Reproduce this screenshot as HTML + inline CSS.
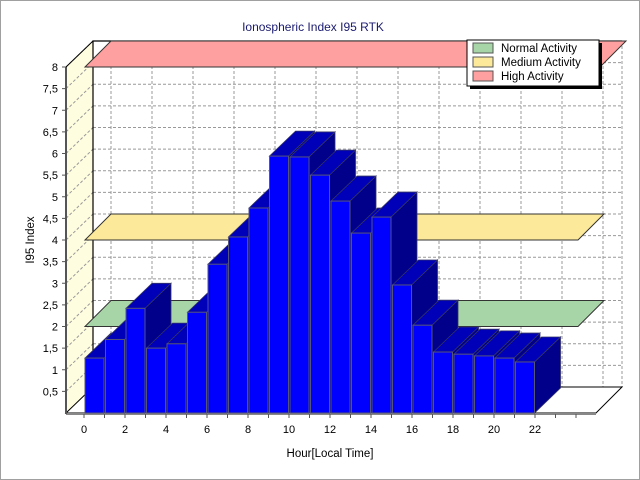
<!DOCTYPE html>
<html><head><meta charset="utf-8"><style>
html,body{margin:0;padding:0;background:#fff;}
svg{display:block;font-family:"Liberation Sans","DejaVu Sans",sans-serif;}
</style></head><body>
<svg id="c" width="640" height="480" xmlns="http://www.w3.org/2000/svg">
<rect x="0.5" y="0.5" width="639" height="479" fill="#fff" stroke="#a0a0a0"/>
<text x="313" y="31" font-size="12" fill="#1a1a6e" text-anchor="middle">Ionospheric Index I95 RTK</text>
<!-- left wall -->
<polygon points="66,67 93,41 93,387 66,413" fill="#fffde0"/>
<g id="grid" stroke="#999" stroke-dasharray="3,2" stroke-width="1" fill="none"></g>
<!-- back frame -->
<polyline points="93,387 93,41 622,41" fill="none" stroke="#000" stroke-width="1.2"/>
<g id="bands"></g>
<!-- floor -->
<polygon points="66,413 93,387 622,387 596,413" fill="#fff" stroke="#000" stroke-width="1"/>
<line x1="66" y1="414" x2="596" y2="414" stroke="#888" stroke-width="2"/>
<line x1="66" y1="67" x2="66" y2="414" stroke="#555" stroke-width="2"/>
<line x1="66" y1="67" x2="93" y2="41" stroke="#000" stroke-width="1"/>
<g id="ticks" font-size="11" fill="#000"></g>
<g id="bars"></g>
<text x="330" y="457" font-size="11.5" text-anchor="middle">Hour[Local Time]</text>
<text transform="translate(34,240) rotate(-90)" font-size="11.5" text-anchor="middle">I95 Index</text>
<!-- legend -->
<rect x="470" y="43" width="132" height="46" fill="#000"/>
<rect x="467" y="40" width="132" height="46" fill="#fff" stroke="#000"/>
<rect x="473" y="43" width="20" height="10" fill="#a8d5a8" stroke="#555"/>
<rect x="473" y="57" width="20" height="10" fill="#fde99a" stroke="#555"/>
<rect x="473" y="71" width="20" height="10" fill="#ffa0a0" stroke="#555"/>
<text x="501" y="52" font-size="11.5">Normal Activity</text>
<text x="501" y="66" font-size="11.5">Medium Activity</text>
<text x="501" y="80" font-size="11.5">High Activity</text>
</svg>
<script>
var NS="http://www.w3.org/2000/svg";
function el(p,t,a,txt){var e=document.createElementNS(NS,t);for(var k in a)e.setAttribute(k,a[k]);if(txt!=null)e.textContent=txt;document.getElementById(p).appendChild(e);return e;}
function fy(v){return 413-43.25*v;}
// grid
for(var i=1;i<=16;i++){var v=i*0.5,by=fy(v)-26;
 el("grid","line",{x1:93,y1:by,x2:622,y2:by});
 el("grid","line",{x1:66,y1:fy(v),x2:93,y2:by});}
el("grid","line",{x1:622,y1:41,x2:622,y2:387});
for(var h=0;h<=24;h+=2){var x=84+20.5*h+27;if(x<622)el("grid","line",{x1:x,y1:41,x2:x,y2:387});}
// bands
function band(v,col,x1,x2){var f=fy(v),b=f-26;
 el("bands","polygon",{points:[x1,f,x1+26,b,x2+26,b,x2,f].join(" "),fill:col,stroke:"#333","stroke-width":1});}
band(2,"#a8d5a8",85,578);band(4,"#fde99a",85,578);band(8,"#ffa0a0",85,600);
// ticks
for(var i=1;i<=16;i++){var v=i*0.5,y=fy(v);
 el("ticks","line",{x1:62,y1:y,x2:66,y2:y,stroke:"#555"});
 var s=(v%1==0)?String(v):String(v).replace(".",",");
 el("ticks","text",{x:58,y:y+4,"text-anchor":"end"},s);}
for(var h=0;h<=24;h++){var x=84+20.5*h;if(x>596)break;el("ticks","line",{x1:x,y1:414,x2:x,y2:418,stroke:"#555"});
 if(h%2==0&&h<=22)el("ticks","text",{x:x,y:433,"text-anchor":"middle"},h);}
// bars
var vals=[1.27,1.7,2.42,1.5,1.6,2.33,3.44,4.07,4.74,5.94,5.92,5.5,4.9,4.16,4.53,2.96,2.03,1.41,1.36,1.32,1.27,1.18];
var dx=26,dy=-25;
vals.forEach(function(v,i){var x=85+20.5*i,w=19,t=fy(v),b=413;
 el("bars","polygon",{points:[x+w,t,x+w+dx,t+dy,x+w+dx,b+dy,x+w,b].join(" "),fill:"#00008b",stroke:"#333366","stroke-width":0.8});
 el("bars","polygon",{points:[x,t,x+dx,t+dy,x+w+dx,t+dy,x+w,t].join(" "),fill:"#0000b8",stroke:"#333366","stroke-width":0.8});
 el("bars","rect",{x:x,y:t,width:w,height:b-t,fill:"#0000ff",stroke:"#555577","stroke-width":1});
});
</script>
</body></html>
